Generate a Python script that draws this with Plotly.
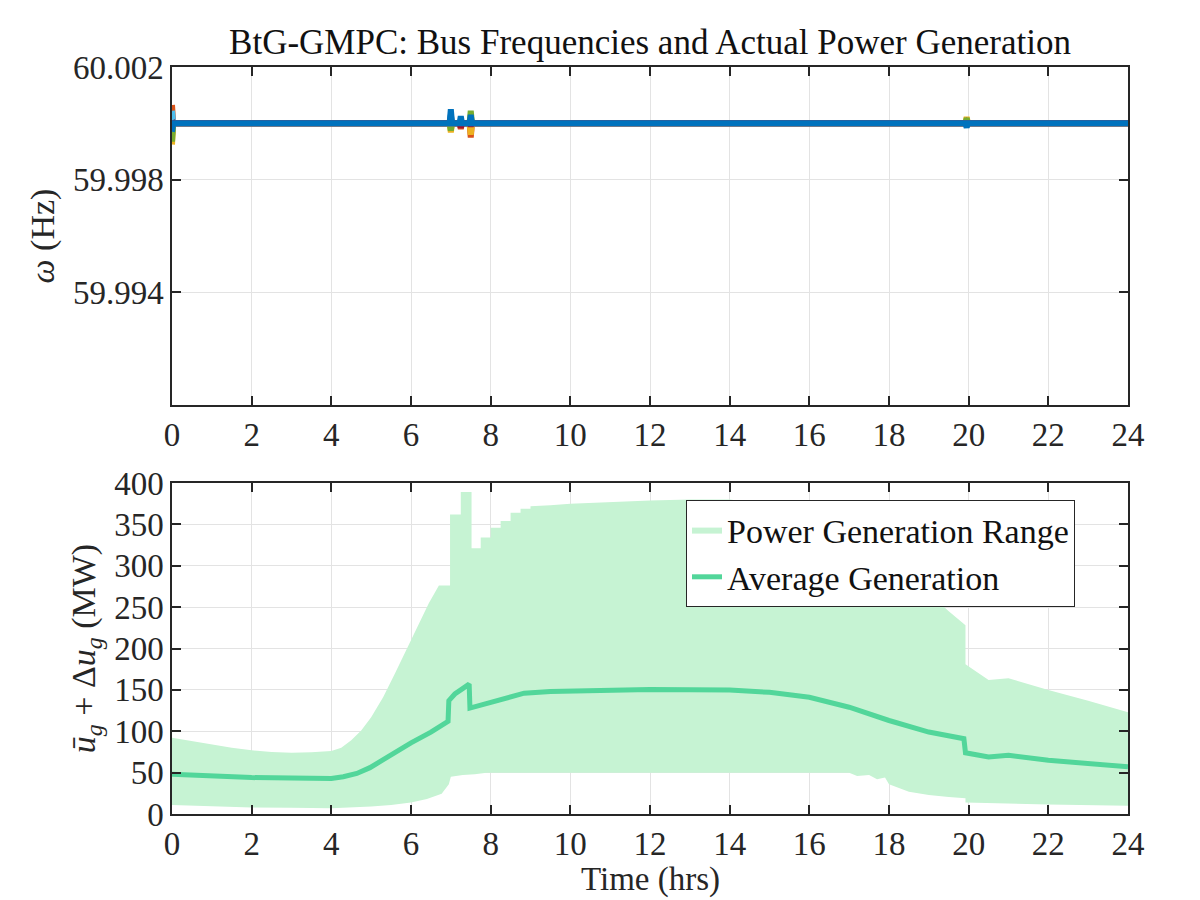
import plotly.graph_objects as go

# ---------------- data ----------------
# Top panel: bus frequencies (Hz) - steady 60 Hz with small transient spikes
event_times = [0.0, 7.0, 7.25, 7.5, 19.95]
bus_colors = ["#0072BD", "#D95319", "#EDB120", "#7E2F8E", "#77AC30", "#4DBEEE", "#A2142F", "#0072BD"]
# deviation (mHz) of each bus at each event time
bus_dev_mhz = [
    [-0.45, 0.50, 0.10, 0.20, 0.10],
    [0.65, 0.15, -0.20, -0.50, 0.05],
    [-0.75, -0.32, 0.05, -0.40, 0.22],
    [0.20, 0.10, 0.05, 0.10, 0.05],
    [-0.65, -0.25, 0.05, 0.45, 0.18],
    [0.45, 0.05, 0.05, 0.05, 0.05],
    [0.10, 0.05, -0.15, -0.10, 0.05],
    [-0.30, 0.30, 0.25, 0.30, -0.15],
]
f_nominal = 60.0

# Bottom panel: power generation range and average (MW)
t_upper = [0, 0.5, 1, 1.5, 2, 2.5, 3, 3.5, 4, 4.25, 4.5, 4.75, 5, 5.3, 5.6, 5.9, 6.2, 6.45, 6.7,
           6.98, 6.98, 7.25, 7.25, 7.52, 7.52, 7.75, 7.75, 8.0, 8.0, 8.25, 8.25, 8.5, 8.5, 8.75,
           8.75, 9.0, 9.0, 9.5, 10, 11, 12, 13, 14, 14.5, 15.5, 16.5, 17.3, 18.0, 18.6, 18.93,
           19.18, 19.5, 19.92, 19.92, 20.5, 21, 22, 23, 24]
upper = [92, 88, 84, 80, 77, 75, 74, 74.5, 76, 80, 89, 101, 117, 141, 170, 200, 228, 255, 276,
         276, 362, 362, 389, 389, 321, 321, 334, 334, 346, 346, 354, 354, 364, 364,
         369, 369, 372, 373, 375, 377, 379, 380, 380, 377, 370, 355, 335, 310, 285, 272,
         259, 245, 228, 181, 162, 164, 150, 137, 123]

t_lower = [0, 1, 2, 3, 4, 5, 5.5, 6, 6.4, 6.77, 6.95, 7.0, 7.3, 7.6, 7.9, 17.0, 17.2, 17.5,
           17.7, 17.9, 18.0, 18.5, 19.0, 19.5, 19.92, 19.92, 21, 22, 24]
lower = [11, 9.5, 8, 7.5, 7, 9, 11, 14, 18, 24.5, 36, 45, 47, 48, 50, 50, 46, 47,
         42, 44, 36, 27, 23, 20.5, 19, 14, 12.5, 11.5, 10]

t_avg = [0, 1, 2, 3, 4, 4.3, 4.64, 4.97, 5.46, 6.0, 6.5, 6.93, 6.95, 7.1, 7.25, 7.4, 7.46,
         7.48, 7.7, 8.0, 8.5, 8.84, 9.5, 10, 12, 14, 15, 16, 17, 18, 19, 19.88, 19.92, 20.5,
         21, 22, 23, 24]
avg = [48, 45.5, 44, 43.5, 43, 45, 49, 56, 71, 86, 99, 112, 137, 145, 150, 155, 157,
       128, 131, 135.5, 142, 146, 148, 148.6, 150.6, 150, 147, 141, 129, 113, 99, 91, 74, 69,
       71, 65, 61, 57]

x_ticks = list(range(0, 25, 2))
freq_ticks = [59.994, 59.998, 60.002]
freq_tick_text = ["59.994", "59.998", "60.002"]
power_ticks = list(range(0, 401, 50))

# ---------------- figure ----------------
FONT = "Liberation Serif"
AX = "#262626"
GRID = "#E3E3E3"
fill_color = "#C6F3D3"
line_color = "#52D69A"

fig = go.Figure()

half = 0.03
for dev, col in zip(bus_dev_mhz, bus_colors):
    xs, ys = [event_times[0]], [f_nominal + dev[0] / 1000.0]
    xs.append(event_times[0] + half); ys.append(f_nominal)
    for et, d in zip(event_times[1:], dev[1:]):
        xs += [et - half, et, et + half]
        ys += [f_nominal, f_nominal + d / 1000.0, f_nominal]
    xs.append(24.0); ys.append(f_nominal)
    fig.add_trace(go.Scatter(x=xs, y=ys, mode="lines", line=dict(color=col, width=6),
                             showlegend=False, hoverinfo="skip", xaxis="x", yaxis="y"))

fig.add_trace(go.Scatter(x=t_lower, y=lower, mode="lines", line=dict(width=0, color=fill_color),
                         showlegend=False, hoverinfo="skip", xaxis="x2", yaxis="y2"))
fig.add_trace(go.Scatter(x=t_upper, y=upper, mode="lines", line=dict(width=0, color=fill_color),
                         fill="tonexty", fillcolor=fill_color, name="Power Generation Range",
                         xaxis="x2", yaxis="y2"))
fig.add_trace(go.Scatter(x=t_avg, y=avg, mode="lines", line=dict(width=5, color=line_color),
                         name="Average Generation", xaxis="x2", yaxis="y2"))

axis_common = dict(showline=True, linecolor=AX, linewidth=1.5, mirror="ticks", ticks="inside",
                   ticklen=9, tickwidth=1.5, tickcolor=AX, showgrid=True, gridcolor=GRID,
                   gridwidth=1, zeroline=False, automargin=False,
                   tickfont=dict(family=FONT, size=33, color=AX))

PLOT_TOP, PLOT_BOT = 67, 814
H = PLOT_BOT - PLOT_TOP
top_dom = [(PLOT_BOT - 405) / H, 1.0]
bot_dom = [0.0, (PLOT_BOT - 483) / H]

fig.update_layout(
    width=1200, height=900,
    margin=dict(l=172, r=72, t=PLOT_TOP, b=900 - PLOT_BOT),
    plot_bgcolor="white", paper_bgcolor="white",
    font=dict(family=FONT, color=AX),
    title=dict(text="BtG-GMPC: Bus Frequencies and Actual Power Generation",
               font=dict(family=FONT, size=35, color="#111111"),
               x=(172 + 1128) / 2 / 1200, xanchor="center", y=1 - 42 / 900, yanchor="middle"),
    xaxis=dict(axis_common, range=[0, 24], tickvals=x_ticks, anchor="y", domain=[0, 1]),
    yaxis=dict(axis_common, range=[59.990, 60.002], tickvals=freq_ticks, ticktext=freq_tick_text,
               domain=top_dom, anchor="x",
               title=dict(text="<i>ω</i> (Hz)", font=dict(family=FONT, size=34, color=AX), standoff=8)),
    xaxis2=dict(axis_common, range=[0, 24], tickvals=x_ticks, anchor="y2", domain=[0, 1]),
    yaxis2=dict(axis_common, range=[0, 400], tickvals=power_ticks, domain=bot_dom, anchor="x2",
                title=dict(text="<i>ū</i><sub><i>g</i></sub> + Δ<i>u</i><sub><i>g</i></sub> (MW)",
                           font=dict(family=FONT, size=34, color=AX), standoff=8)),
    legend=dict(x=(686 - 172) / 956, y=(PLOT_BOT - 500) / H, xanchor="left", yanchor="top",
                bgcolor="white", bordercolor=AX, borderwidth=1, traceorder="normal",
                font=dict(family=FONT, size=34, color="#111111"), tracegroupgap=0),
    showlegend=True,
    annotations=[dict(text="Time (hrs)", xref="paper", yref="paper", x=0.5,
                      y=(PLOT_BOT - 899) / H, xanchor="center", yanchor="bottom",
                      borderpad=0, showarrow=False,
                      font=dict(family=FONT, size=33, color=AX))],
)

fig.write_html("out.html")
